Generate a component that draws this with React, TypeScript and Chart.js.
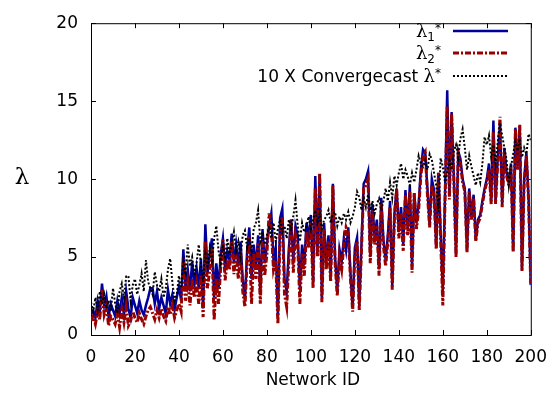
import React, { useEffect, useRef } from 'react';
import { Chart, registerables } from 'chart.js';

Chart.register(...registerables);

// x tick labels (Network ID) and y tick labels (λ)
const xTickValues = [0, 20, 40, 60, 80, 100, 120, 140, 160, 180, 200];
const yTickValues = [0, 5, 10, 15, 20];

// λ1* values for network IDs 0..200
const lambda1 = [
  1.3, 1.6, 1.1, 2.2, 1.5, 3.3, 1.9, 2.5, 1.2, 2.0,
  1.6, 1.2, 2.2, 1.4, 2.4, 1.3, 2.8, 1.7, 1.1, 2.4,
  1.9, 1.4, 2.2, 1.6, 1.3, 1.9, 2.4, 3.0, 3.0, 2.0,
  2.8, 1.7, 2.4, 1.9, 1.35, 2.9, 2.0, 2.6, 1.6, 2.4,
  3.1, 2.2, 5.5, 3.0, 4.2, 2.8, 4.7, 3.2, 4.3, 3.0,
  4.9, 1.7, 7.1, 4.0, 5.2, 6.2, 2.4, 4.6, 3.0, 5.2,
  6.2, 4.2, 5.4, 4.8, 6.5, 4.6, 5.8, 4.4, 6.0, 3.6,
  2.2, 5.4, 6.9, 3.6, 5.8, 4.3, 6.4, 2.6, 6.8, 4.6,
  5.8, 7.0, 7.8, 4.8, 5.6, 1.2, 7.5, 8.1, 3.6, 2.8,
  5.6, 7.4, 4.8, 7.0, 6.4, 3.0, 5.8, 4.5, 7.2, 6.2,
  7.7, 3.4, 10.2, 5.4, 10.3, 2.4, 7.2, 4.6, 6.4, 3.8,
  9.7, 5.0, 2.8, 5.5, 4.7, 6.2, 5.4, 6.9, 4.0, 1.7,
  5.6, 6.25, 1.9, 5.8, 9.7, 10.0, 10.5, 5.0, 8.4, 6.2,
  7.4, 4.2, 8.8, 6.1, 4.8, 6.4, 8.6, 3.2, 7.8, 9.4,
  6.6, 8.2, 5.8, 9.3, 6.8, 9.6, 4.4, 9.1, 7.2, 8.4,
  10.6, 11.9, 11.7, 9.4, 7.1, 10.0, 9.3, 5.6, 10.4, 6.6,
  2.8, 9.0, 15.7, 8.9, 14.3, 10.2, 5.2, 11.8, 11.3, 10.0,
  9.4, 5.4, 9.4, 7.6, 9.0, 6.1, 7.4, 7.7, 8.6, 9.4,
  10.0, 11.0, 8.6, 13.75, 8.6, 11.4, 13.6, 8.4, 12.0, 10.4,
  9.8, 11.0, 5.4, 13.3, 10.8, 13.4, 4.2, 10.0, 11.7, 8.8,
  3.2,
];

// λ2* values for network IDs 0..200
const lambda2 = [
  0.9, 1.2, 0.7, 1.5, 1.0, 2.9, 1.3, 1.8, 0.6, 1.2,
  1.0, 0.7, 1.4, 0.5, 1.6, 0.8, 1.8, 0.6, 0.9, 1.5,
  1.1, 0.8, 1.4, 1.0, 0.7, 1.2, 1.6, 1.8, 1.4, 1.0,
  1.6, 1.1, 1.7, 1.2, 0.9, 1.8, 1.3, 1.9, 1.1, 1.6,
  2.0, 1.5, 4.9, 2.2, 3.4, 1.9, 3.6, 2.4, 3.3, 2.0,
  3.8, 1.15, 6.0, 3.0, 4.2, 5.6, 0.95, 3.6, 2.0, 4.4,
  6.1, 3.5, 4.8, 4.2, 6.0, 3.9, 5.2, 3.6, 5.4, 2.8,
  1.8, 4.8, 6.3, 2.0, 5.2, 3.6, 5.9, 2.0, 6.2, 3.8,
  5.2, 7.8, 6.8, 4.2, 4.8, 0.7, 6.8, 7.6, 2.6, 1.8,
  4.8, 7.4, 4.0, 6.4, 5.8, 2.0, 5.2, 3.8, 6.6, 5.6,
  7.2, 3.0, 9.4, 5.0, 10.4, 2.1, 6.8, 4.2, 6.0, 3.4,
  9.6, 4.6, 2.5, 5.0, 4.2, 5.8, 6.9, 6.5, 3.6, 1.5,
  5.2, 6.0, 1.6, 5.4, 9.4, 9.6, 10.0, 4.6, 8.0, 5.8,
  7.0, 3.8, 8.4, 5.7, 4.4, 6.0, 8.2, 2.9, 7.6, 9.4,
  6.2, 7.8, 5.4, 9.0, 6.4, 9.2, 4.0, 9.1, 6.8, 8.0,
  10.2, 11.4, 11.7, 9.0, 6.9, 9.6, 9.0, 5.5, 10.4, 6.2,
  1.9, 8.6, 14.7, 8.7, 14.2, 10.0, 5.0, 11.6, 11.0, 9.8,
  9.2, 5.3, 9.2, 7.4, 8.8, 6.0, 7.2, 7.5, 8.4, 9.2,
  9.8, 10.6, 8.4, 13.0, 8.4, 11.2, 14.0, 8.2, 11.8, 10.2,
  9.6, 10.8, 5.3, 13.2, 10.6, 13.5, 4.1, 9.8, 11.5, 8.6,
  3.2,
];

// 10 X Convergecast λ* values for network IDs 0..200
const convergecast = [
  2.1, 1.5, 2.4, 1.6, 2.8, 2.0, 2.6, 1.7, 2.2, 1.5,
  3.0, 2.0, 1.4, 2.8, 3.3, 2.4, 3.75, 3.8, 2.2, 3.2,
  3.6, 2.6, 3.2, 3.95, 2.8, 4.8, 3.4, 3.0, 2.6, 4.05,
  3.2, 2.8, 3.6, 2.4, 3.0, 4.2, 4.9, 3.4, 2.2, 2.6,
  3.8, 3.0, 4.7, 4.0, 5.8, 4.4, 5.0, 3.8, 4.6, 5.8,
  4.6, 3.4, 5.2, 4.4, 5.6, 4.8, 6.2, 7.0, 5.4, 4.6,
  5.8, 5.0, 6.2, 5.2, 5.8, 6.6, 5.4, 6.0, 5.0, 6.4,
  6.7, 5.6, 6.2, 5.4, 6.8, 7.2, 8.0, 6.0, 6.6, 5.8,
  6.4, 7.0, 6.2, 7.2, 6.0, 6.8, 7.4, 6.6, 7.0, 6.2,
  7.4, 6.8, 7.6, 8.65, 7.0, 6.0, 7.2, 6.6, 7.0, 7.6,
  6.8, 7.4, 8.0, 7.2, 7.8, 6.8, 7.4, 7.6, 8.0, 7.2,
  7.8, 7.9, 7.0, 7.6, 7.2, 7.8, 7.4, 7.9, 7.2, 7.6,
  8.2, 9.2, 8.85, 8.0, 8.8, 8.2, 9.0, 8.0, 8.6, 7.8,
  8.4, 8.75, 8.0, 8.6, 9.4, 8.6, 9.8, 8.8, 10.2, 9.6,
  10.4, 11.0, 10.0, 10.6, 10.2, 9.6, 10.4, 9.8, 10.6, 11.5,
  11.0, 10.8, 11.2, 10.6, 11.6, 11.25, 10.4, 9.6, 7.9, 11.35,
  10.8, 9.8, 10.4, 11.2, 10.6, 11.8, 12.2, 11.4, 12.6, 13.2,
  12.0, 10.6, 11.5, 10.8, 10.2, 9.6, 10.4, 9.8, 11.0, 12.7,
  12.2, 12.8, 11.4, 12.2, 11.0, 12.4, 13.6, 12.8, 12.0, 11.2,
  9.6, 10.8, 11.6, 12.4, 11.8, 12.6, 11.4, 12.0, 11.6, 12.9,
  12.5,
];

const SANS = '"DejaVu Sans", "Liberation Sans", sans-serif';
const SERIF = '"DejaVu Serif", "Liberation Serif", serif';
const BLUE = '#00009a';
const RED = '#990000';

type Part = { t: string; font: string; dy: number };

function drawParts(ctx: CanvasRenderingContext2D, right: number, base: number, parts: Part[]) {
  let total = 0;
  for (const p of parts) {
    ctx.font = p.font;
    total += ctx.measureText(p.t).width;
  }
  let x = right - total;
  ctx.textAlign = 'left';
  ctx.textBaseline = 'alphabetic';
  for (const p of parts) {
    ctx.font = p.font;
    ctx.fillText(p.t, x, base + p.dy);
    x += ctx.measureText(p.t).width;
  }
}

const decorPlugin = {
  id: 'decor',
  beforeDatasetsDraw(chart: any) {
    const { ctx, chartArea: a, scales } = chart;
    ctx.save();
    ctx.strokeStyle = '#000';
    ctx.lineWidth = 1;
    ctx.strokeRect(a.left + 0.5, a.top + 0.5, a.right - a.left, a.bottom - a.top);
    const tl = 5;
    ctx.beginPath();
    for (const v of xTickValues) {
      const x = Math.round(scales.x.getPixelForValue(v)) + 0.5;
      ctx.moveTo(x, a.bottom);
      ctx.lineTo(x, a.bottom - tl);
      ctx.moveTo(x, a.top);
      ctx.lineTo(x, a.top + tl);
    }
    for (const v of yTickValues) {
      const y = Math.round(scales.y.getPixelForValue(v)) + 0.5;
      ctx.moveTo(a.left, y);
      ctx.lineTo(a.left + tl, y);
      ctx.moveTo(a.right, y);
      ctx.lineTo(a.right - tl, y);
    }
    ctx.stroke();
    ctx.restore();
  },
  afterDraw(chart: any) {
    const { ctx, chartArea: a } = chart;
    ctx.save();
    ctx.fillStyle = '#000';
    // axis titles
    ctx.font = `17px ${SANS}`;
    ctx.textAlign = 'center';
    ctx.textBaseline = 'middle';
    ctx.fillText('Network ID', (a.left + a.right) / 2 + 2, 381);
    ctx.font = `23px ${SERIF}`;
    ctx.fillText('λ', 22, 178);

    // legend
    const right = 441;
    const lx0 = 453;
    const lx1 = 508;
    const rows = [31, 53, 76];
    const sub = `12px ${SANS}`;
    const sup = `12px ${SANS}`;
    const lam = `18px ${SERIF}`;
    drawParts(ctx, right, rows[0] + 6, [
      { t: 'λ', font: lam, dy: 0 },
      { t: '1', font: sub, dy: 4 },
      { t: '*', font: sup, dy: -5 },
    ]);
    drawParts(ctx, right, rows[1] + 6, [
      { t: 'λ', font: lam, dy: 0 },
      { t: '2', font: sub, dy: 4 },
      { t: '*', font: sup, dy: -5 },
    ]);
    drawParts(ctx, right, rows[2] + 6, [
      { t: '10 X Convergecast ', font: `17px ${SANS}`, dy: 0 },
      { t: 'λ', font: lam, dy: 0 },
      { t: '*', font: sup, dy: -5 },
    ]);

    ctx.lineCap = 'butt';
    ctx.strokeStyle = BLUE;
    ctx.lineWidth = 2.5;
    ctx.setLineDash([]);
    ctx.beginPath();
    ctx.moveTo(lx0, rows[0]);
    ctx.lineTo(lx1, rows[0]);
    ctx.stroke();

    ctx.strokeStyle = RED;
    ctx.lineWidth = 3;
    ctx.setLineDash([6, 2, 2, 2]);
    ctx.beginPath();
    ctx.moveTo(lx0, rows[1]);
    ctx.lineTo(lx1, rows[1]);
    ctx.stroke();

    ctx.strokeStyle = '#000';
    ctx.lineWidth = 2;
    ctx.setLineDash([2, 2]);
    ctx.beginPath();
    ctx.moveTo(lx0, rows[2]);
    ctx.lineTo(lx1, rows[2]);
    ctx.stroke();
    ctx.restore();
  },
};

const toPoints = (vals: number[]) => vals.map((v, i) => ({ x: i, y: v }));

export default function App() {
  const ref = useRef<HTMLCanvasElement | null>(null);

  useEffect(() => {
    document.body.style.margin = '0';
    const canvas = ref.current!;
    const chart = new Chart(canvas, {
      type: 'line',
      data: {
        datasets: [
          {
            label: 'λ1*',
            data: toPoints(lambda1),
            borderColor: BLUE,
            borderWidth: 2.5,
            pointRadius: 0,
            tension: 0,
            order: 3,
          },
          {
            label: 'λ2*',
            data: toPoints(lambda2),
            borderColor: RED,
            borderWidth: 3,
            borderDash: [6, 2, 2, 2],
            pointRadius: 0,
            tension: 0,
            order: 2,
          },
          {
            label: '10 X Convergecast λ*',
            data: toPoints(convergecast),
            borderColor: '#000',
            borderWidth: 2,
            borderDash: [2, 2],
            pointRadius: 0,
            tension: 0,
            order: 1,
          },
        ],
      },
      options: {
        animation: false,
        responsive: false,
        devicePixelRatio: 1,
        layout: { padding: { left: 0, top: 15, right: 28, bottom: 0 } },
        plugins: {
          legend: { display: false },
          tooltip: { enabled: false },
        },
        scales: {
          x: {
            type: 'linear',
            min: 0,
            max: 200,
            afterBuildTicks: (scale: any) => {
              scale.ticks = xTickValues.map((v) => ({ value: v }));
            },
            ticks: {
              font: { family: SANS, size: 17 },
              color: '#000',
              padding: 12,
              maxRotation: 0,
              autoSkip: false,
            },
            grid: { display: false, drawTicks: false },
            border: { display: false },
            afterFit: (scale: any) => {
              scale.height = 59;
            },
          },
          y: {
            type: 'linear',
            min: 0,
            max: 20,
            afterBuildTicks: (scale: any) => {
              scale.ticks = yTickValues.map((v) => ({ value: v }));
            },
            ticks: {
              font: { family: SANS, size: 17 },
              color: '#000',
              padding: 13,
              autoSkip: false,
            },
            grid: { display: false, drawTicks: false },
            border: { display: false },
            afterFit: (scale: any) => {
              scale.width = 91;
            },
          },
        },
      },
      plugins: [decorPlugin],
    });
    return () => chart.destroy();
  }, []);

  return (
    <div style={{ width: 559, height: 394, background: '#fff' }}>
      <canvas ref={ref} width={559} height={394} style={{ display: 'block', width: 559, height: 394 }} />
    </div>
  );
}
